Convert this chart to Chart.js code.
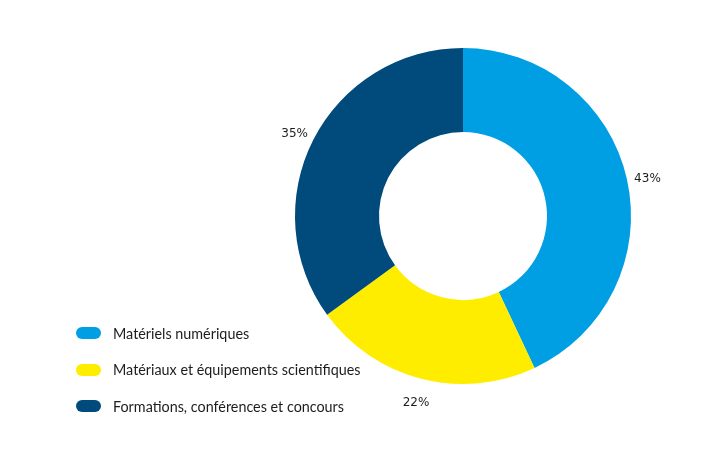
<!DOCTYPE html>
<html>
<head>
<meta charset="utf-8">
<script src="https://cdn.jsdelivr.net/npm/chart.js@4/dist/chart.umd.min.js"></script>
<style>
  html, body { margin: 0; padding: 0; background: #ffffff; }
  #wrap { position: relative; width: 717px; height: 452px; }
  #legend { position: absolute; left: 76px; top: 324px; font-family: Lato, "Open Sans", sans-serif; font-size: 14.35px; color: #1d1d1b; }
  #legend .item { display: flex; align-items: center; height: 18px; margin-bottom: 18.5px; }
  #legend .sw { width: 25px; height: 12px; border-radius: 6px; margin-right: 12px; flex: none; }
</style>
</head>
<body>
<div id="wrap">
  <canvas id="c" width="717" height="452"></canvas>
  <div id="legend"></div>
</div>
<script>
const categories = ["Matériels numériques", "Matériaux et équipements scientifiques", "Formations, conférences et concours"];
const values = [43, 22, 35];
const valueLabels = ["43%", "22%", "35%"];
const colors = ["#009fe3", "#ffed00", "#004a7c"];

const legendEl = document.getElementById('legend');
categories.forEach((name, i) => {
  const item = document.createElement('div');
  item.className = 'item';
  const sw = document.createElement('span');
  sw.className = 'sw';
  sw.style.background = colors[i];
  const t = document.createElement('span');
  t.textContent = name;
  item.appendChild(sw);
  item.appendChild(t);
  legendEl.appendChild(item);
});

const outsideLabels = {
  id: 'outsideLabels',
  afterDatasetsDraw(chart) {
    const ctx = chart.ctx;
    const meta = chart.getDatasetMeta(0);
    ctx.save();
    ctx.font = '12px "DejaVu Sans", sans-serif';
    ctx.fillStyle = '#1d1d1b';
    ctx.textAlign = 'center';
    ctx.textBaseline = 'alphabetic';
    meta.data.forEach((arc, i) => {
      const p = arc.getProps(['x', 'y', 'startAngle', 'endAngle', 'outerRadius'], true);
      const mid = (p.startAngle + p.endAngle) / 2;
      const r = p.outerRadius + 21;
      ctx.fillText(valueLabels[i], p.x + Math.cos(mid) * r, p.y + Math.sin(mid) * r + 7);
    });
    ctx.restore();
  }
};

new Chart(document.getElementById('c'), {
  type: 'doughnut',
  data: {
    labels: categories,
    datasets: [{
      data: values,
      backgroundColor: colors,
      borderWidth: 0,
      hoverOffset: 0
    }]
  },
  options: {
    responsive: false,
    animation: false,
    cutout: '50%',
    layout: { padding: { left: 295, right: 86, top: 48, bottom: 68 } },
    plugins: {
      legend: { display: false },
      tooltip: { enabled: false }
    }
  },
  plugins: [outsideLabels]
});
</script>
</body>
</html>
